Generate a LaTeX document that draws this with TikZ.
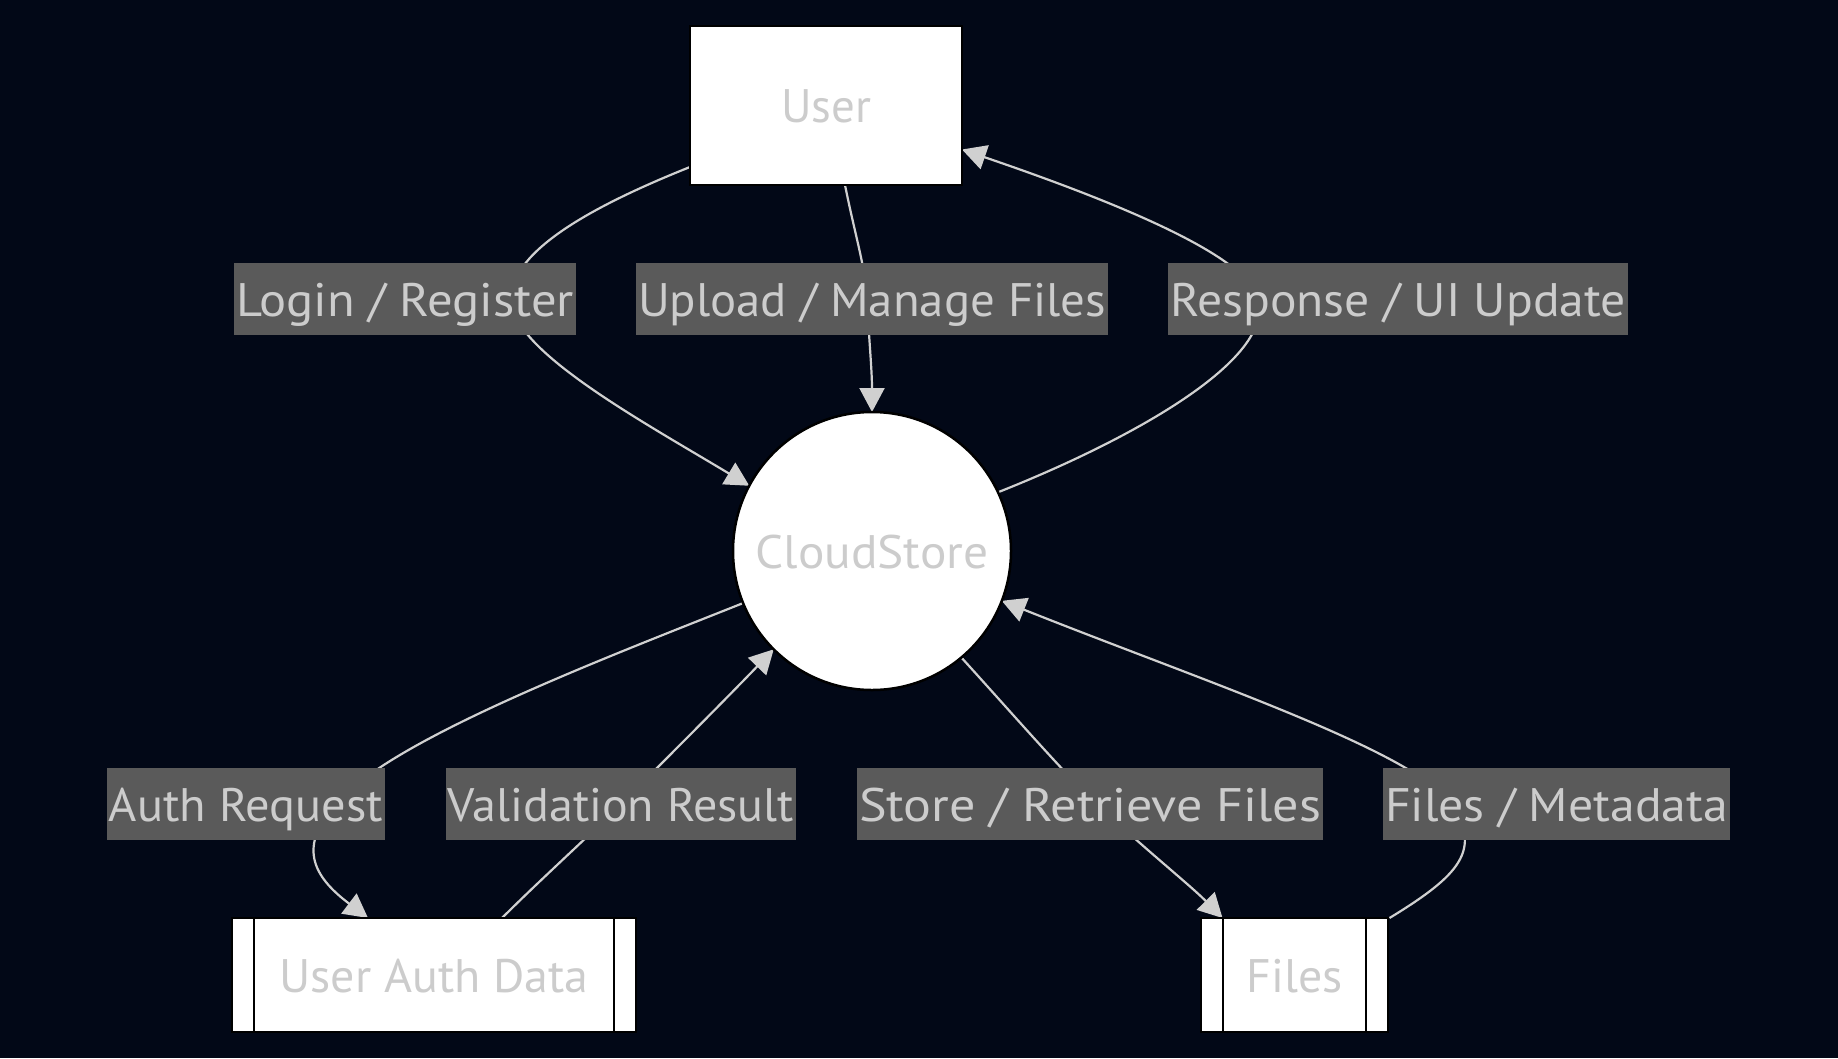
\documentclass[tikz,border=0pt]{standalone}
\usepackage{graphicx}
\usepackage{fontspec}
\setmainfont{PT Sans}[FakeStretch=1.05]
\usetikzlibrary{arrows.meta}
\definecolor{bg}{RGB}{2,8,23}
\definecolor{lblbg}{RGB}{90,90,90}
\definecolor{txt}{RGB}{204,204,204}
\definecolor{edgec}{RGB}{208,208,208}
\newcommand\fitto[2]{\resizebox{#1}{\height}{#2}}
\pgfdeclarelayer{bglayer}
\pgfdeclarelayer{edgelayer}
\pgfsetlayers{bglayer,edgelayer,main}
\begin{document}
\begin{tikzpicture}[x=1pt,y=-1pt,
  every node/.style={font=\fontsize{47}{56}\selectfont, text=txt, text height=34pt, text depth=0pt},
  ent/.style={draw=black, line width=2.5pt, fill=white, inner sep=0pt, outer sep=0pt},
  lbl/.style={fill=lblbg, inner sep=0pt, minimum height=72pt},
  flow/.style={draw=edgec, line width=2.2pt, -{Triangle[length=24pt,width=25pt]}},
  bar/.style={draw=black, line width=2.5pt}]
\begin{pgfonlayer}{bglayer}
\fill[bg] (0,0) rectangle (1838,1058);
\end{pgfonlayer}
\useasboundingbox (0,0) rectangle (1838,1058);

% entities
\node[ent, minimum width=272pt, minimum height=159pt] (user) at (826,105.5) {\fitto{90pt}{User}};
\node[ent, circle, minimum size=278pt] (cs) at (872,551) {\fitto{233pt}{CloudStore}};
\node[ent, minimum width=404pt, minimum height=114pt] (ua) at (434,975) {\fitto{309pt}{User Auth Data}};
\node[ent, minimum width=187pt, minimum height=114pt] (fs) at (1294.5,975) {\fitto{96pt}{Files}};
\draw[bar] ([xshift=22pt]ua.north west) -- ([xshift=22pt]ua.south west);
\draw[bar] ([xshift=-22pt]ua.north east) -- ([xshift=-22pt]ua.south east);
\draw[bar] ([xshift=22pt]fs.north west) -- ([xshift=22pt]fs.south west);
\draw[bar] ([xshift=-22pt]fs.north east) -- ([xshift=-22pt]fs.south east);

% edge labels
\node[lbl, minimum width=342pt] (l1) at (405,299) {\fitto{338pt}{Login / Register}};
\node[lbl, minimum width=472pt] (l2) at (872,299) {\fitto{468pt}{Upload / Manage Files}};
\node[lbl, minimum width=460pt] (l3) at (1398,299) {\fitto{456pt}{Response / UI Update}};
\node[lbl, minimum width=278pt] (l4) at (246,804) {\fitto{274pt}{Auth Request}};
\node[lbl, minimum width=350pt] (l5) at (621,804) {\fitto{346pt}{Validation Result}};
\node[lbl, minimum width=466pt] (l6) at (1090,804) {\fitto{462pt}{Store / Retrieve Files}};
\node[lbl, minimum width=347pt] (l7) at (1556.5,804) {\fitto{343pt}{Files / Metadata}};

% connectors
\begin{pgfonlayer}{edgelayer}
\draw[flow] ([yshift=18pt]user.south west) .. controls (595,205) and (511,250) .. ([xshift=106pt]l1.center)
  .. controls (511,350) and (640,420) .. (cs.152);
\draw[flow] ([xshift=19pt]user.south) .. controls (855,235) and (866,270) .. ([xshift=-5pt]l2.center)
  .. controls (869,340) and (872,370) .. (cs.north);
\draw[flow] (cs.25.5) .. controls (1130,440) and (1275,360) .. ([xshift=-140pt]l3.center)
  .. controls (1248,255) and (1110,200) .. ([yshift=-44pt]user.east);
\draw[flow] (cs.202.6) .. controls (600,660) and (390,740) .. ([xshift=90pt]l4.center)
  .. controls (294,850) and (318,880) .. ([xshift=-66pt]ua.north);
\draw[flow] ([xshift=68pt]ua.north) .. controls (540,880) and (590,835) .. (l5.center)
  .. controls (660,765) and (720,705) .. (cs.225.6);
\draw[flow] (cs.310.5) .. controls (1010,711) and (1070,780) .. ([xshift=7pt]l6.center)
  .. controls (1140,845) and (1190,885) .. ([xshift=-72pt]fs.north);
\draw[flow] ([xshift=95pt]fs.north) .. controls (1460,875) and (1482,850) .. ([xshift=-105pt]l7.center)
  .. controls (1412,750) and (1200,680) .. (cs.339);
\end{pgfonlayer}
\end{tikzpicture}
\end{document}
